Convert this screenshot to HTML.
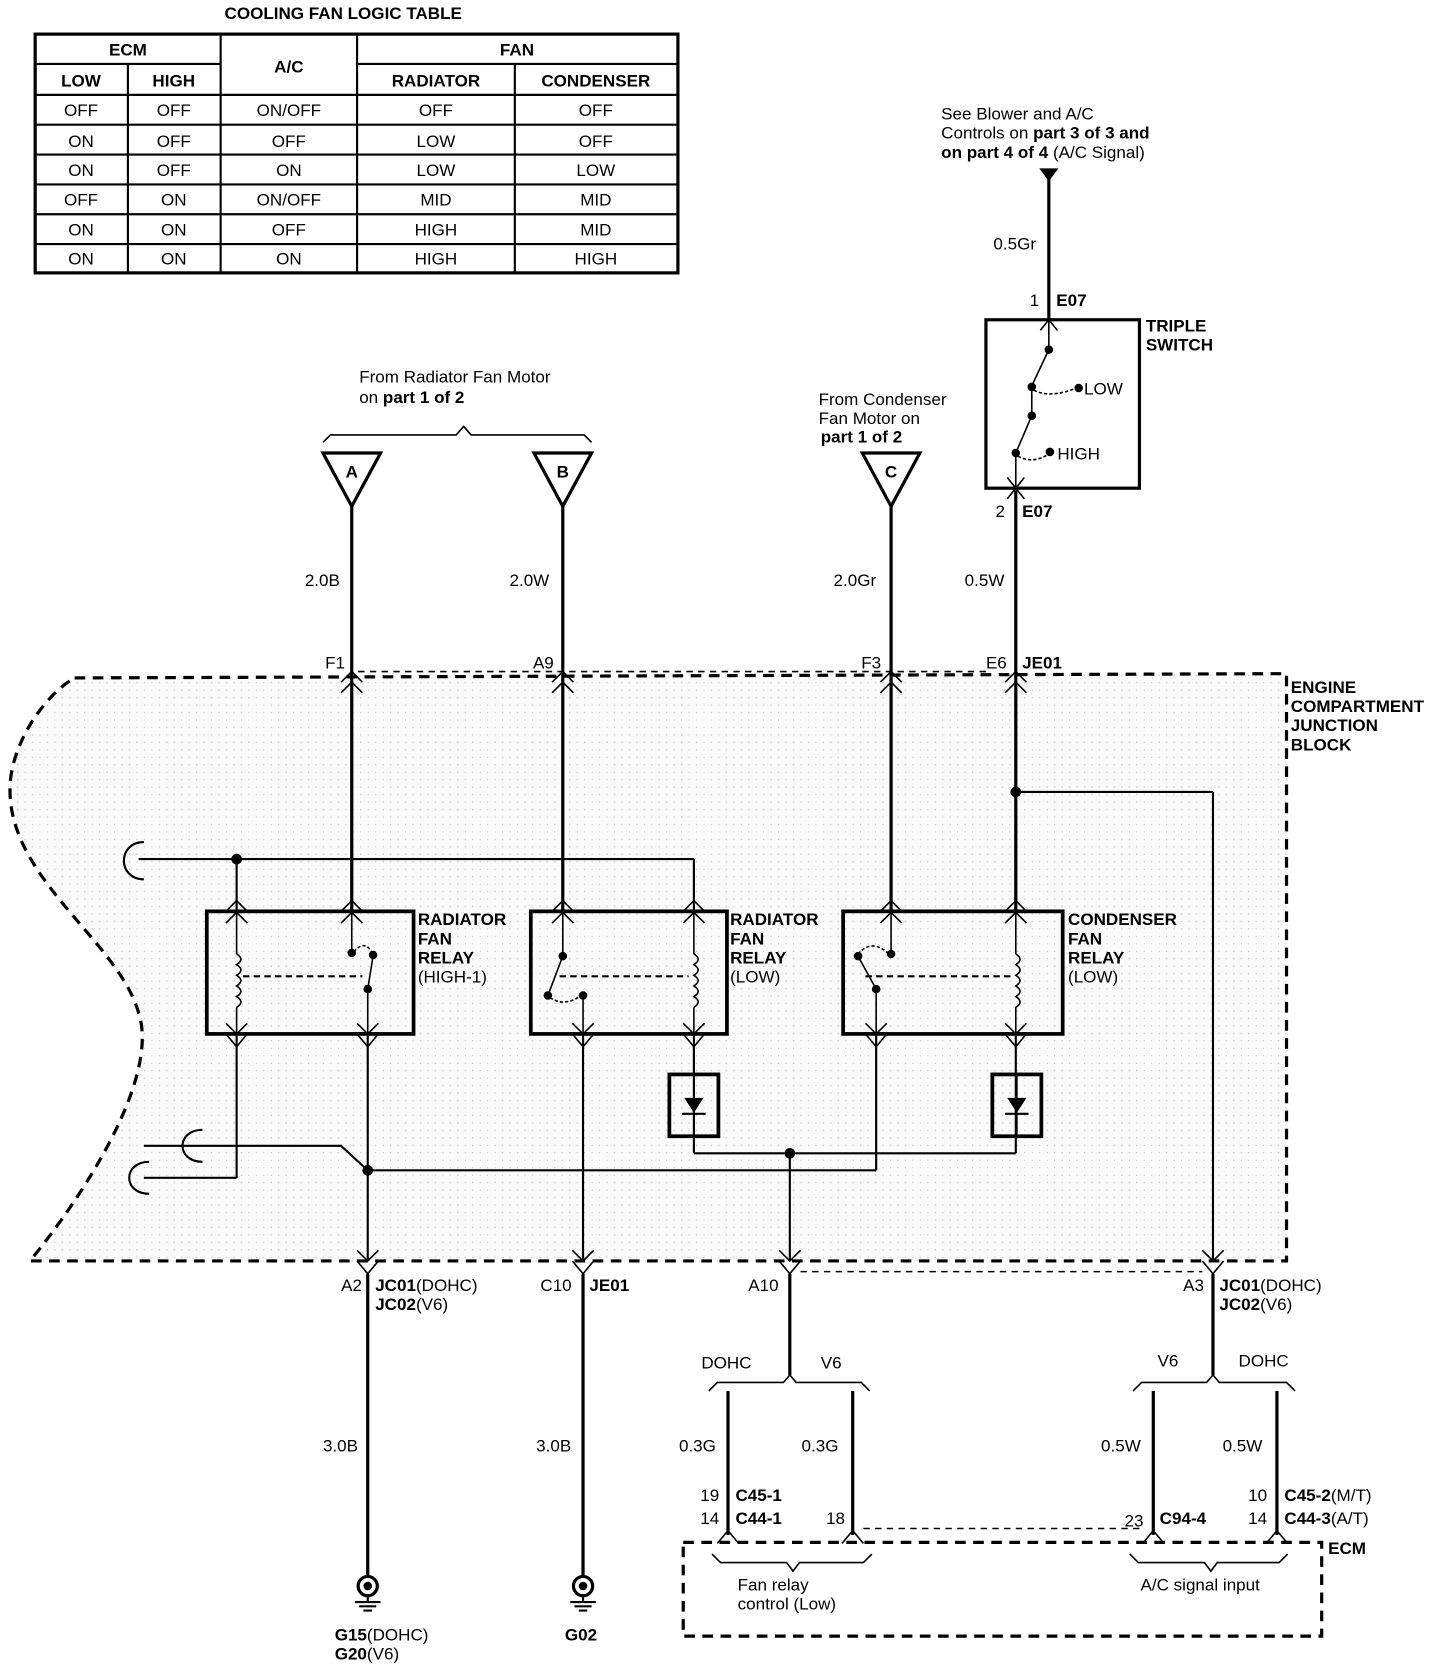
<!DOCTYPE html>
<html><head><meta charset="utf-8"><style>
html,body{margin:0;padding:0;background:#fff}
svg{display:block}
text{font-family:"Liberation Sans",Arial,sans-serif;font-size:16px;fill:#000}
.b{font-weight:bold}
</style></head><body>
<svg width="1456" height="1666" viewBox="0 0 1366 1563" xmlns="http://www.w3.org/2000/svg">
<defs>
<pattern id="dots" width="7" height="7" patternUnits="userSpaceOnUse"><rect width="7" height="7" fill="#fafafa"/><rect x="2" y="3" width="1" height="1" fill="#bbb"/></pattern>
</defs>
<text x="322" y="18" text-anchor="middle" class="b" font-size="15">COOLING FAN LOGIC TABLE</text>
<g stroke="#000" stroke-width="2" fill="none">
<rect x="33" y="32" width="603" height="224" stroke-width="3"/>
<line x1="33" y1="60" x2="207" y2="60"/><line x1="335" y1="60" x2="636" y2="60"/>
<line x1="33" y1="89" x2="636" y2="89"/><line x1="33" y1="117" x2="636" y2="117"/>
<line x1="33" y1="145" x2="636" y2="145"/><line x1="33" y1="173" x2="636" y2="173"/>
<line x1="33" y1="201" x2="636" y2="201"/><line x1="33" y1="229" x2="636" y2="229"/>
<line x1="120" y1="60" x2="120" y2="256"/><line x1="207" y1="32" x2="207" y2="256"/>
<line x1="335" y1="32" x2="335" y2="256"/><line x1="483" y1="60" x2="483" y2="256"/>
</g>
<g text-anchor="middle">
<text x="120" y="52" class="b">ECM</text><text x="271" y="68" class="b">A/C</text><text x="485" y="52" class="b">FAN</text>
<text x="76" y="81" class="b">LOW</text><text x="163" y="81" class="b">HIGH</text><text x="409" y="81" class="b">RADIATOR</text><text x="559" y="81" class="b">CONDENSER</text>
<text x="76" y="109">OFF</text><text x="163" y="109">OFF</text><text x="271" y="109">ON/OFF</text><text x="409" y="109">OFF</text><text x="559" y="109">OFF</text>
<text x="76" y="138">ON</text><text x="163" y="138">OFF</text><text x="271" y="138">OFF</text><text x="409" y="138">LOW</text><text x="559" y="138">OFF</text>
<text x="76" y="165">ON</text><text x="163" y="165">OFF</text><text x="271" y="165">ON</text><text x="409" y="165">LOW</text><text x="559" y="165">LOW</text>
<text x="76" y="193">OFF</text><text x="163" y="193">ON</text><text x="271" y="193">ON/OFF</text><text x="409" y="193">MID</text><text x="559" y="193">MID</text>
<text x="76" y="221">ON</text><text x="163" y="221">ON</text><text x="271" y="221">OFF</text><text x="409" y="221">HIGH</text><text x="559" y="221">MID</text>
<text x="76" y="248">ON</text><text x="163" y="248">ON</text><text x="271" y="248">ON</text><text x="409" y="248">HIGH</text><text x="559" y="248">HIGH</text>
</g>

<path d="M70,636 L1207,632 L1207,1183 L28,1183 C80,1120 150,1010 130,950 C110,880 0,820 10,730 C15,690 45,650 70,636 Z" fill="url(#dots)" stroke="#000" stroke-width="3" stroke-dasharray="10,7"/>
<text x="1211" y="650" class="b">ENGINE</text><text x="1211" y="668" class="b">COMPARTMENT</text><text x="1211" y="686" class="b">JUNCTION</text><text x="1211" y="704" class="b">BLOCK</text>

<text x="337" y="359">From Radiator Fan Motor</text>
<text x="337" y="378">on <tspan class="b">part 1 of 2</tspan></text>
<path d="M303,415 L310,408 L428,408 L435,400 L442,408 L548,408 L555,415" fill="none" stroke="#000" stroke-width="1.5"/>
<text x="768" y="380">From Condenser</text><text x="768" y="398">Fan Motor on</text><text x="770" y="415" class="b">part 1 of 2</text>
<text x="883" y="112">See Blower and A/C</text>
<text x="883" y="130">Controls on <tspan class="b">part 3 of 3 and</tspan></text>
<text x="883" y="148"><tspan class="b">on part 4 of 4</tspan> (A/C Signal)</text>

<g stroke="#000" stroke-width="3" fill="#fff">
<path d="M303,425 L357,425 L330,475 Z"/><path d="M501,425 L555,425 L528,475 Z"/><path d="M809,425 L863,425 L836,475 Z"/>
</g>
<g class="b" text-anchor="middle" font-size="15"><text x="330" y="448" class="b">A</text><text x="528" y="448" class="b">B</text><text x="836" y="448" class="b">C</text></g>
<path d="M975,158 L993,158 L984,170 Z" fill="#000"/>

<g stroke="#000" stroke-width="3" fill="none">
<line x1="330" y1="475" x2="330" y2="855"/><line x1="528" y1="475" x2="528" y2="855"/>
<line x1="836" y1="475" x2="836" y2="855"/><line x1="984" y1="160" x2="984" y2="300"/>
<line x1="953" y1="460" x2="953" y2="855"/>
<rect x="925" y="300" width="144" height="158"/>
</g>
<g stroke="#000" stroke-width="1.5" fill="none">
<line x1="984" y1="300" x2="984" y2="328"/><line x1="984" y1="328" x2="968" y2="362"/>
<line x1="968" y1="362" x2="968" y2="390"/><line x1="968" y1="390" x2="953" y2="425"/><line x1="953" y1="425" x2="953" y2="458"/>
<path d="M970,366 Q985,374 1010,364" stroke-dasharray="3,2"/><path d="M955,428 Q970,436 985,425" stroke-dasharray="3,2"/>
<path d="M976,310 L984,300 L992,310"/><path d="M945,448 L953,458 L961,448 M945,468 L953,458 L961,468"/>
</g>
<g fill="#000"><circle cx="984" cy="328" r="4"/><circle cx="968" cy="363" r="4"/><circle cx="1012" cy="364" r="4"/><circle cx="968" cy="390" r="4"/><circle cx="953" cy="425" r="4"/><circle cx="985" cy="424" r="4"/></g>
<text x="1017" y="370">LOW</text><text x="992" y="431">HIGH</text>
<text x="1075" y="311" class="b">TRIPLE</text><text x="1075" y="329" class="b">SWITCH</text>
<text x="966" y="287">1</text><text x="991" y="287" class="b">E07</text>
<text x="934" y="485">2</text><text x="959" y="485" class="b">E07</text>
<text x="932" y="234">0.5Gr</text>

<text x="286" y="550">2.0B</text><text x="478" y="550">2.0W</text><text x="782" y="550">2.0Gr</text><text x="905" y="550">0.5W</text>
<text x="305" y="627">F1</text><text x="500" y="627">A9</text><text x="808" y="627">F3</text><text x="925" y="627">E6</text><text x="959" y="627" class="b">JE01</text>
<line x1="336" y1="630" x2="930" y2="630" stroke="#000" stroke-width="1.5" stroke-dasharray="6,5"/>
<g stroke="#000" stroke-width="1.5" fill="none">
<path d="M320,640 L330,630 L340,640 M320,650 L330,640 L340,650"/>
<path d="M518,640 L528,630 L538,640 M518,650 L528,640 L538,650"/>
<path d="M826,640 L836,630 L846,640 M826,650 L836,640 L846,650"/>
<path d="M943,640 L953,630 L963,640 M943,650 L953,640 L963,650"/>
</g>

<g stroke="#000" stroke-width="2" fill="none">
<line x1="130" y1="806" x2="651" y2="806"/><line x1="222" y1="806" x2="222" y2="855"/><line x1="651" y1="806" x2="651" y2="855"/>
<path d="M135,790 C110,790 110,825 135,825"/>
<line x1="953" y1="743" x2="1138" y2="743"/><line x1="1138" y1="743" x2="1138" y2="1183"/>
<line x1="222" y1="970" x2="222" y2="1105"/><line x1="222" y1="1105" x2="135" y2="1105"/>
<path d="M135,1075 L320,1075 L345,1098"/><path d="M190,1060 C165,1060 165,1090 190,1090" /><path d="M140,1090 C115,1090 115,1120 140,1120"/>
<line x1="345" y1="970" x2="345" y2="1183"/><line x1="345" y1="1098" x2="822" y2="1098"/><line x1="822" y1="970" x2="822" y2="1098"/>
<line x1="547" y1="970" x2="547" y2="1183"/>
<line x1="651" y1="970" x2="651" y2="1082"/><line x1="953" y1="970" x2="953" y2="1082"/><line x1="651" y1="1082" x2="953" y2="1082"/>
<line x1="741" y1="1082" x2="741" y2="1183"/>
</g>
<g fill="#000"><circle cx="222" cy="806" r="5"/><circle cx="953" cy="743" r="5"/><circle cx="345" cy="1098" r="5"/><circle cx="741" cy="1082" r="5"/></g>

<g stroke="#000" stroke-width="3.5" fill="none">
<rect x="194" y="855" width="194" height="115"/><rect x="498" y="855" width="184" height="115"/><rect x="791" y="855" width="206" height="115"/>
<rect x="628" y="1008" width="46" height="58"/><rect x="931" y="1008" width="46" height="58"/>
</g>
<g stroke="#000" stroke-width="1.5" fill="none">
<line x1="222" y1="855" x2="222" y2="895"/><path d="M222,895 q8,5 0,10 q8,5 0,10 q8,5 0,10 q8,5 0,10 q8,5 0,10"/><line x1="222" y1="945" x2="222" y2="970"/>
<line x1="330" y1="855" x2="330" y2="895"/><path d="M332,893 Q343,880 350,896" stroke-dasharray="3,2"/><line x1="350" y1="897" x2="345" y2="928"/><line x1="345" y1="928" x2="345" y2="970"/>
<line x1="228" y1="916" x2="340" y2="916" stroke-dasharray="6,4" stroke-width="2"/>
<line x1="528" y1="855" x2="528" y2="897"/><line x1="528" y1="897" x2="514" y2="934"/><path d="M516,936 Q530,945 545,934" stroke-dasharray="3,2"/><line x1="547" y1="934" x2="547" y2="970"/>
<line x1="651" y1="855" x2="651" y2="895"/><path d="M651,895 q8,5 0,10 q8,5 0,10 q8,5 0,10 q8,5 0,10 q8,5 0,10"/><line x1="651" y1="945" x2="651" y2="970"/>
<line x1="525" y1="916" x2="646" y2="916" stroke-dasharray="6,4" stroke-width="2"/>
<line x1="836" y1="855" x2="836" y2="895"/><path d="M805,895 Q818,880 834,895" stroke-dasharray="3,2"/><line x1="805" y1="897" x2="822" y2="928"/><line x1="822" y1="928" x2="822" y2="970"/>
<line x1="953" y1="855" x2="953" y2="895"/><path d="M953,895 q8,5 0,10 q8,5 0,10 q8,5 0,10 q8,5 0,10 q8,5 0,10"/><line x1="953" y1="945" x2="953" y2="970"/>
<line x1="812" y1="916" x2="948" y2="916" stroke-dasharray="6,4" stroke-width="2"/>
<path d="M212,855 L222,845 L232,855 M212,866 L222,856 L232,866"/>
<path d="M320,855 L330,845 L340,855 M320,866 L330,856 L340,866"/>
<path d="M518,855 L528,845 L538,855 M518,866 L528,856 L538,866"/>
<path d="M641,855 L651,845 L661,855 M641,866 L651,856 L661,866"/>
<path d="M826,855 L836,845 L846,855 M826,866 L836,856 L846,866"/>
<path d="M943,855 L953,845 L963,855 M943,866 L953,856 L963,866"/>
<path d="M212,960 L222,970 L232,960 M212,970 L222,982 L232,970"/>
<path d="M335,960 L345,970 L355,960 M335,970 L345,982 L355,970"/>
<path d="M537,960 L547,970 L557,960 M537,970 L547,982 L557,970"/>
<path d="M641,960 L651,970 L661,960 M641,970 L651,982 L661,970"/>
<path d="M812,960 L822,970 L832,960 M812,970 L822,982 L832,970"/>
<path d="M943,960 L953,970 L963,960 M943,970 L953,982 L963,970"/>
</g>
<g fill="#000"><circle cx="330" cy="894" r="4"/><circle cx="350" cy="896" r="4"/><circle cx="345" cy="928" r="4"/>
<circle cx="528" cy="897" r="4"/><circle cx="514" cy="934" r="4"/><circle cx="547" cy="934" r="4"/>
<circle cx="836" cy="895" r="4"/><circle cx="805" cy="897" r="4"/><circle cx="822" cy="928" r="4"/>
<path d="M642,1030 L660,1030 L651,1044 Z"/><path d="M945,1030 L963,1030 L954,1044 Z"/></g>
<line x1="640" y1="1045" x2="662" y2="1045" stroke="#000" stroke-width="2"/><line x1="943" y1="1045" x2="965" y2="1045" stroke="#000" stroke-width="2"/>
<line x1="651" y1="1008" x2="651" y2="1066" stroke="#000" stroke-width="1.5"/><line x1="954" y1="1008" x2="954" y2="1066" stroke="#000" stroke-width="1.5"/>
<text x="392" y="868" class="b">RADIATOR</text><text x="392" y="886" class="b">FAN</text><text x="392" y="904" class="b">RELAY</text><text x="392" y="922">(HIGH-1)</text>
<text x="685" y="868" class="b">RADIATOR</text><text x="685" y="886" class="b">FAN</text><text x="685" y="904" class="b">RELAY</text><text x="685" y="922">(LOW)</text>
<text x="1002" y="868" class="b">CONDENSER</text><text x="1002" y="886" class="b">FAN</text><text x="1002" y="904" class="b">RELAY</text><text x="1002" y="922">(LOW)</text>

<g stroke="#000" stroke-width="1.5" fill="none">
<path d="M335,1173 L345,1183 L355,1173 M335,1183 L345,1195 L355,1183"/>
<path d="M537,1173 L547,1183 L557,1173 M537,1183 L547,1195 L557,1183"/>
<path d="M731,1173 L741,1183 L751,1173 M731,1183 L741,1195 L751,1183"/>
<path d="M1128,1173 L1138,1183 L1148,1173 M1128,1183 L1138,1195 L1148,1183"/>
<line x1="751" y1="1193" x2="1128" y2="1193" stroke-dasharray="6,5"/>
<line x1="810" y1="1434" x2="1072" y2="1434" stroke-dasharray="6,5"/>
<path d="M673,1448 L683,1436 L693,1448 M790,1448 L800,1436 L810,1448 M1072,1448 L1082,1436 L1092,1448 M1188,1448 L1198,1436 L1208,1448"/>
<path d="M665,1305 L673,1297 L735,1297 L741,1290 L747,1297 L808,1297 L816,1305"/>
<path d="M1063,1305 L1071,1297 L1132,1297 L1138,1290 L1144,1297 L1207,1297 L1215,1305"/>
<path d="M668,1458 L676,1466 L738,1466 L744,1474 L750,1466 L810,1466 L818,1458"/>
<path d="M1060,1458 L1068,1466 L1130,1466 L1136,1474 L1142,1466 L1200,1466 L1208,1458"/>
</g>
<g stroke="#000" stroke-width="3" fill="none">
<line x1="345" y1="1195" x2="345" y2="1478"/><line x1="547" y1="1195" x2="547" y2="1478"/>
<line x1="741" y1="1195" x2="741" y2="1290"/><line x1="1138" y1="1195" x2="1138" y2="1290"/>
<line x1="683" y1="1305" x2="683" y2="1440"/><line x1="800" y1="1305" x2="800" y2="1440"/>
<line x1="1082" y1="1305" x2="1082" y2="1440"/><line x1="1198" y1="1305" x2="1198" y2="1440"/>
<circle cx="345" cy="1488" r="9"/><circle cx="547" cy="1488" r="9"/>
<rect x="641" y="1447" width="599" height="88" stroke-dasharray="10,7"/>
</g>
<g fill="#000"><circle cx="345" cy="1488" r="4"/><circle cx="547" cy="1488" r="4"/></g>
<g stroke="#000" stroke-width="2"><line x1="345" y1="1497" x2="345" y2="1503"/><line x1="333" y1="1503" x2="357" y2="1503"/><line x1="337" y1="1507" x2="353" y2="1507"/><line x1="341" y1="1511" x2="349" y2="1511"/>
<line x1="547" y1="1497" x2="547" y2="1503"/><line x1="535" y1="1503" x2="559" y2="1503"/><line x1="539" y1="1507" x2="555" y2="1507"/><line x1="543" y1="1511" x2="551" y2="1511"/></g>

<text x="320" y="1211">A2</text><text x="352" y="1211"><tspan class="b">JC01</tspan>(DOHC)</text><text x="352" y="1229"><tspan class="b">JC02</tspan>(V6)</text>
<text x="507" y="1211">C10</text><text x="553" y="1211" class="b">JE01</text>
<text x="702" y="1211">A10</text>
<text x="1110" y="1211">A3</text><text x="1144" y="1211"><tspan class="b">JC01</tspan>(DOHC)</text><text x="1144" y="1229"><tspan class="b">JC02</tspan>(V6)</text>
<text x="658" y="1284">DOHC</text><text x="770" y="1284">V6</text><text x="1086" y="1282">V6</text><text x="1162" y="1282">DOHC</text>
<text x="303" y="1362">3.0B</text><text x="503" y="1362">3.0B</text>
<text x="637" y="1362">0.3G</text><text x="752" y="1362">0.3G</text><text x="1033" y="1362">0.5W</text><text x="1147" y="1362">0.5W</text>
<text x="657" y="1408">19</text><text x="690" y="1408" class="b">C45-1</text>
<text x="657" y="1430">14</text><text x="690" y="1430" class="b">C44-1</text><text x="775" y="1430">18</text>
<text x="1055" y="1432">23</text><text x="1088" y="1430" class="b">C94-4</text>
<text x="1171" y="1408">10</text><text x="1205" y="1408"><tspan class="b">C45-2</tspan>(M/T)</text>
<text x="1171" y="1430">14</text><text x="1205" y="1430"><tspan class="b">C44-3</tspan>(A/T)</text>
<text x="1246" y="1458" class="b">ECM</text>
<text x="692" y="1492">Fan relay</text><text x="692" y="1510">control (Low)</text>
<text x="1070" y="1492">A/C signal input</text>
<text x="314" y="1539"><tspan class="b">G15</tspan>(DOHC)</text><text x="314" y="1557"><tspan class="b">G20</tspan>(V6)</text>
<text x="530" y="1539" class="b">G02</text>
</svg>
</body></html>
